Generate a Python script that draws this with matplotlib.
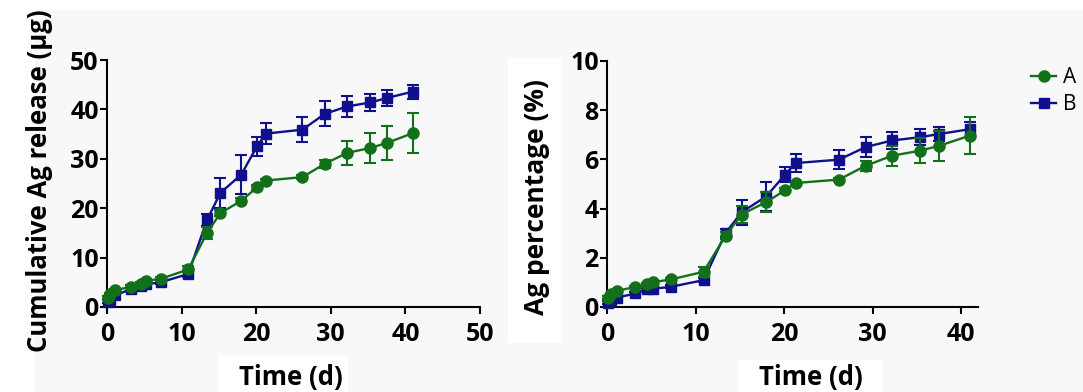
import matplotlib
matplotlib.use('Agg')
import matplotlib.pyplot as plt
from matplotlib.patches import Rectangle
from matplotlib.lines import Line2D

plt.rcParams['font.family'] = ['Open Sans', 'DejaVu Sans']
plt.rcParams['font.weight'] = 'bold'

# sampling days
days = [0.1, 0.4, 1.1, 3.2, 4.5, 5.2, 7.2, 10.9, 13.4, 15.2, 18.0, 20.1, 21.3,
        26.2, 29.2, 32.2, 35.3, 37.5, 41.0]

# cumulative release (ug)
rel_a = [1.9, 2.6, 3.4, 4.1, 4.7, 5.3, 5.7, 7.6, 15.0, 19.0, 21.5, 24.2, 25.6,
         26.3, 29.0, 31.2, 32.2, 33.2, 35.2]
rel_a_err = [0.3, 0.3, 0.3, 0.3, 0.3, 0.3, 0.4, 0.6, 1.2, 0.6, 0.6, 0.5, 0.4,
             0.4, 0.8, 2.5, 3.0, 3.5, 4.1]
rel_b = [1.1, 1.5, 2.4, 3.6, 4.2, 4.6, 5.0, 6.7, 17.6, 23.1, 26.8, 32.5, 35.1,
         35.9, 39.1, 40.6, 41.4, 42.3, 43.6]
rel_b_err = [0.3, 0.3, 0.3, 0.3, 0.3, 0.3, 0.4, 0.6, 1.2, 3.1, 3.9, 1.9, 2.2,
             2.5, 2.5, 2.2, 1.8, 1.6, 1.4]

# percentage (%)
pct_a = [0.38, 0.51, 0.65, 0.82, 0.92, 1.01, 1.12, 1.43, 2.9, 3.76, 4.27, 4.74, 5.04,
         5.18, 5.74, 6.15, 6.35, 6.55, 6.97]
pct_a_err = [0.05, 0.05, 0.05, 0.05, 0.05, 0.05, 0.06, 0.2, 0.15, 0.35, 0.4, 0.08, 0.06,
             0.06, 0.2, 0.4, 0.5, 0.6, 0.75]
pct_b = [0.18, 0.27, 0.38, 0.55, 0.72, 0.74, 0.82, 1.09, 3.01, 3.85, 4.5, 5.38, 5.85,
         5.99, 6.5, 6.77, 6.9, 7.03, 7.23]
pct_b_err = [0.05, 0.05, 0.05, 0.05, 0.05, 0.05, 0.06, 0.08, 0.15, 0.5, 0.6, 0.3, 0.35,
             0.4, 0.4, 0.35, 0.33, 0.3, 0.3]

green = '#13701a'
blue = '#10108c'

fig = plt.figure(figsize=(10.83, 3.92), dpi=100, facecolor='#f8f8f8')

# white patches from the original composite
for (x0, y0, w, h) in [(0, 0, 1083, 10), (0, 0, 35, 392), (508, 58, 54, 285),
                       (218, 355, 130, 37), (738, 360, 145, 32)]:
    fig.patches.append(Rectangle((x0 / 1083, 1 - (y0 + h) / 392), w / 1083, h / 392,
                                 transform=fig.transFigure, facecolor='white',
                                 edgecolor='none', zorder=0))

ax1 = fig.add_axes([107 / 1083, 1 - 307 / 392, 373 / 1083, 247 / 392])
ax2 = fig.add_axes([607 / 1083, 1 - 307 / 392, 371 / 1083, 246 / 392])

def draw(ax, ya, ea, yb, eb):
    ax.errorbar(days, yb, yerr=eb, color=blue, marker='s', markersize=7.5,
                linewidth=1.7, elinewidth=1.5, capsize=4, capthick=1.5,
                clip_on=False, zorder=3)
    ax.errorbar(days, ya, yerr=ea, color=green, marker='o', markersize=8,
                linewidth=1.7, elinewidth=1.5, capsize=4, capthick=1.5,
                clip_on=False, zorder=4)
    ax.set_facecolor('none')
    for s in ['top', 'right']:
        ax.spines[s].set_visible(False)
    for s in ['left', 'bottom']:
        ax.spines[s].set_linewidth(1.5)
    ax.tick_params(direction='out', length=5, width=1.5, labelsize=18, pad=6)
    ax.tick_params(axis='y', pad=1)

draw(ax1, rel_a, rel_a_err, rel_b, rel_b_err)
ax1.set_xlim(0, 50)
ax1.set_ylim(0, 50)
ax1.set_xticks([0, 10, 20, 30, 40, 50])
ax1.set_yticks([0, 10, 20, 30, 40, 50])

draw(ax2, pct_a, pct_a_err, pct_b, pct_b_err)
ax2.set_xlim(0, 41.9)
ax2.set_ylim(0, 10)
ax2.set_xticks([0, 10, 20, 30, 40])
ax2.set_yticks([0, 2, 4, 6, 8, 10])

for ax in (ax1, ax2):
    for lab in ax.get_xticklabels() + ax.get_yticklabels():
        lab.set_fontweight('bold')

fig.text(40 / 1083, 1 - 181 / 392, 'Cumulative Ag release (µg)', rotation=90,
         ha='center', va='center', fontsize=18.5, fontweight='bold')
fig.text(537 / 1083, 1 - 197 / 392, 'Ag percentage (%)', rotation=90,
         ha='center', va='center', fontsize=19, fontweight='bold')
fig.text(291 / 1083, 1 - 378 / 392, 'Time (d)', ha='center', va='center',
         fontsize=18.5, fontweight='bold')
fig.text(811 / 1083, 1 - 378 / 392, 'Time (d)', ha='center', va='center',
         fontsize=18.5, fontweight='bold')

h_a = Line2D([], [], color=green, marker='o', markersize=8, linewidth=1.7)
h_b = Line2D([], [], color=blue, marker='s', markersize=7.5, linewidth=1.7)
fig.legend([h_a, h_b], ['A', 'B'], loc='upper left', frameon=False,
           bbox_to_anchor=(1031 / 1083, 1 - 67 / 392), prop={'size': 15, 'weight': 'normal'},
           handlelength=1.2, handletextpad=0.35, labelspacing=0.3,
           borderaxespad=0, borderpad=0)

fig.savefig('out.png', dpi=100, facecolor=fig.get_facecolor())
